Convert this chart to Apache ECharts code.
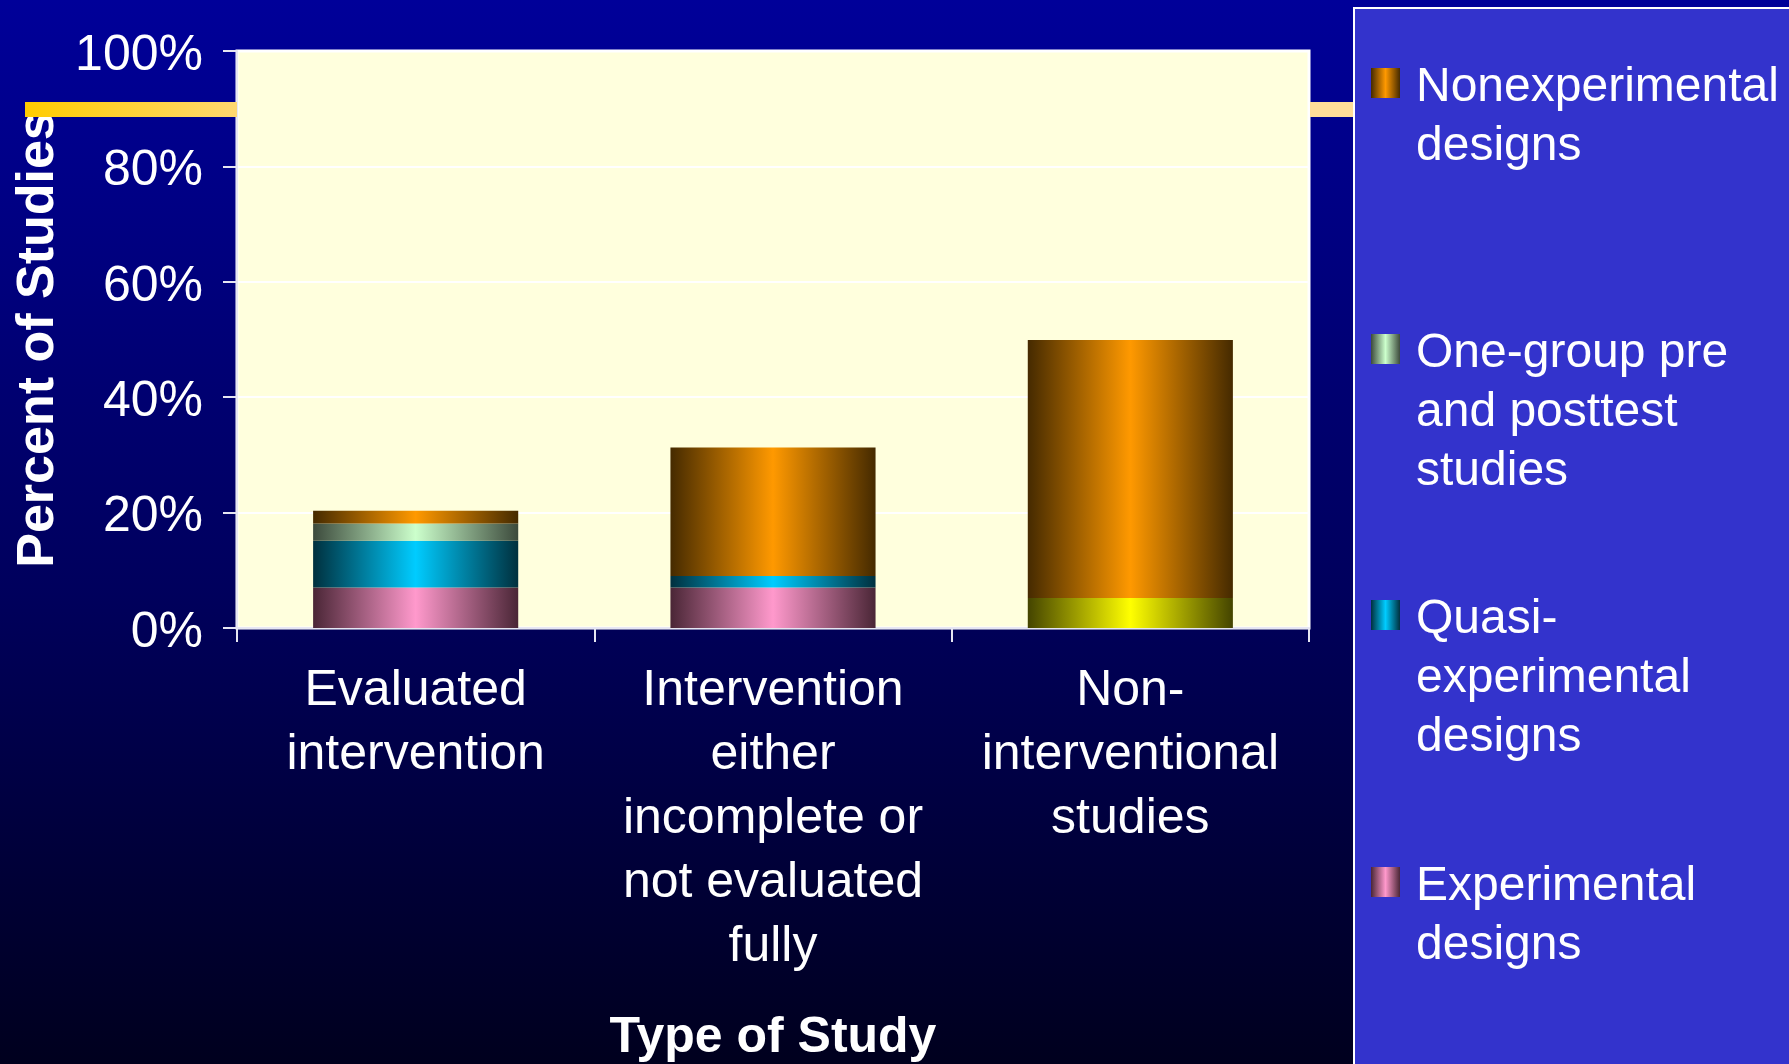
<!DOCTYPE html>
<html>
<head>
<meta charset="utf-8">
<script src="https://cdn.jsdelivr.net/npm/echarts@6/dist/echarts.min.js"></script>
<style>
html,body{margin:0;padding:0;background:#000066;}
#chart{width:1789px;height:1064px;}
</style>
</head>
<body>
<div id="chart"></div>
<script>
// ---- data ----
const categories = ['Evaluated\nintervention', 'Intervention\neither\nincomplete or\nnot evaluated\nfully', 'Non-\ninterventional\nstudies'];
const otherDesigns = [0, 0, 5.2];
const experimental = [7.0, 7.0, 0];
const quasiExperimental = [8.1, 2.0, 0];
const oneGroupPrePost = [3.0, 0, 0];
const nonexperimental = [2.2, 22.3, 44.7];
const yTicks = [0, 20, 40, 60, 80, 100];

const seriesNames = ['Other designs', 'Experimental designs', 'Quasi-experimental designs', 'One-group pre and posttest studies', 'Nonexperimental designs'];
const legendLines = {
  'Nonexperimental designs': ['Nonexperimental', 'designs'],
  'One-group pre and posttest studies': ['One-group pre', 'and posttest', 'studies'],
  'Quasi-experimental designs': ['Quasi-', 'experimental', 'designs'],
  'Experimental designs': ['Experimental', 'designs']
};

// ---- styles ----
const FONT = '"Liberation Sans", Arial, sans-serif';
function hgrad(dark, bright) {
  return new echarts.graphic.LinearGradient(0, 0, 1, 0, [
    {offset: 0, color: dark},
    {offset: 0.5, color: bright},
    {offset: 1, color: dark}
  ]);
}
const colors = {
  'Other designs': hgrad('#444400', '#ffff00'),
  'Experimental designs': hgrad('#4a2636', '#ff99cc'),
  'Quasi-experimental designs': hgrad('#00303e', '#00ccff'),
  'One-group pre and posttest studies': hgrad('#3c4a3c', '#ccffcc'),
  'Nonexperimental designs': hgrad('#452a00', '#ff9900')
};
const dataBySeries = [otherDesigns, experimental, quasiExperimental, oneGroupPrePost, nonexperimental];

const chart = echarts.init(document.getElementById('chart'), null, {renderer: 'canvas'});

const LH = 59;
// square icon (29x30) sitting at the top of a 29x40 box, so the text is centred 5px below the square
const ICON = 'path://M0,0L29,0L29,30L0,30Z M0,40L0.01,40L0.01,39.99Z';
const legendCenters = {
  'Nonexperimental designs': 83,
  'One-group pre and posttest studies': 349,
  'Quasi-experimental designs': 615,
  'Experimental designs': 882
};
const legends = Object.keys(legendCenters).map(name => {
  const lines = legendLines[name];
  const n = lines.length;
  return {
    data: [name],
    left: 1371,
    top: legendCenters[name] + 5 - (2 * n - 1) * LH / 2,
    orient: 'vertical',
    padding: 0,
    icon: ICON,
    itemWidth: 29,
    itemHeight: 40,
    selectedMode: false,
    z: 10,
    formatter: () => '\n'.repeat(n - 1) + lines.join('\n'),
    textStyle: {
      color: '#ffffff',
      fontFamily: FONT,
      fontSize: 48,
      lineHeight: LH,
      padding: [0, 0, 0, 11]
    }
  };
});

const option = {
  animation: false,
  backgroundColor: new echarts.graphic.LinearGradient(0, 0, 0, 1, [
    {offset: 0, color: '#000099'},
    {offset: 0.56, color: '#00005c'},
    {offset: 0.85, color: '#000033'},
    {offset: 1, color: '#00001e'}
  ]),
  graphic: [
    {type: 'rect', z: 1, shape: {x: 25, y: 102, width: 212, height: 15},
     style: {fill: new echarts.graphic.LinearGradient(0, 0, 1, 0, [{offset: 0, color: '#ffcc00'}, {offset: 1, color: '#ffd870'}])}},
    {type: 'rect', z: 1, shape: {x: 1310, y: 102, width: 46, height: 15},
     style: {fill: '#ffdd99'}},
    {type: 'rect', z: 2, shape: {x: 1354, y: 8, width: 440, height: 1070},
     style: {fill: '#3333cc', stroke: '#ffffff', lineWidth: 2}}
  ],
  legend: legends,
  grid: {
    left: 237, top: 51, width: 1072, height: 577,
    show: true,
    backgroundColor: '#ffffdd',
    borderColor: '#ffffff',
    borderWidth: 3,
    containLabel: false,
    outerBoundsMode: 'none'
  },
  xAxis: {
    type: 'category',
    data: categories,
    name: 'Type of Study',
    nameLocation: 'middle',
    nameGap: 385,
    nameTextStyle: {color: '#ffffff', fontFamily: FONT, fontSize: 50, fontWeight: 'bold'},
    axisLine: {show: true, lineStyle: {color: '#e6e6f2', width: 2}},
    axisTick: {show: true, alignWithLabel: false, length: 14, lineStyle: {color: '#e6e6f2', width: 2}},
    axisLabel: {color: '#ffffff', fontFamily: FONT, fontSize: 50, lineHeight: 64, margin: 31, interval: 0},
    splitLine: {show: false}
  },
  yAxis: {
    type: 'value',
    min: yTicks[0], max: yTicks[yTicks.length - 1], interval: 20,
    name: 'Percent of Studies',
    nameLocation: 'middle',
    nameGap: 168,
    nameTextStyle: {color: '#ffffff', fontFamily: FONT, fontSize: 52, fontWeight: 'bold'},
    axisLine: {show: true, lineStyle: {color: '#e6e6f2', width: 2}},
    axisTick: {show: true, length: 14, lineStyle: {color: '#e6e6f2', width: 2}},
    axisLabel: {color: '#ffffff', fontFamily: FONT, fontSize: 50, margin: 34, verticalAlign: 'top', lineHeight: 10, formatter: '{value}%'},
    splitLine: {show: true, lineStyle: {color: '#ffffff', width: 2}}
  },
  series: seriesNames.map((name, i) => ({
    name: name,
    type: 'bar',
    stack: 'total',
    barCategoryGap: '42.6%',
    z: 3,
    itemStyle: {color: colors[name]},
    emphasis: {disabled: true},
    data: dataBySeries[i]
  }))
};
chart.setOption(option);
</script>
</body>
</html>
